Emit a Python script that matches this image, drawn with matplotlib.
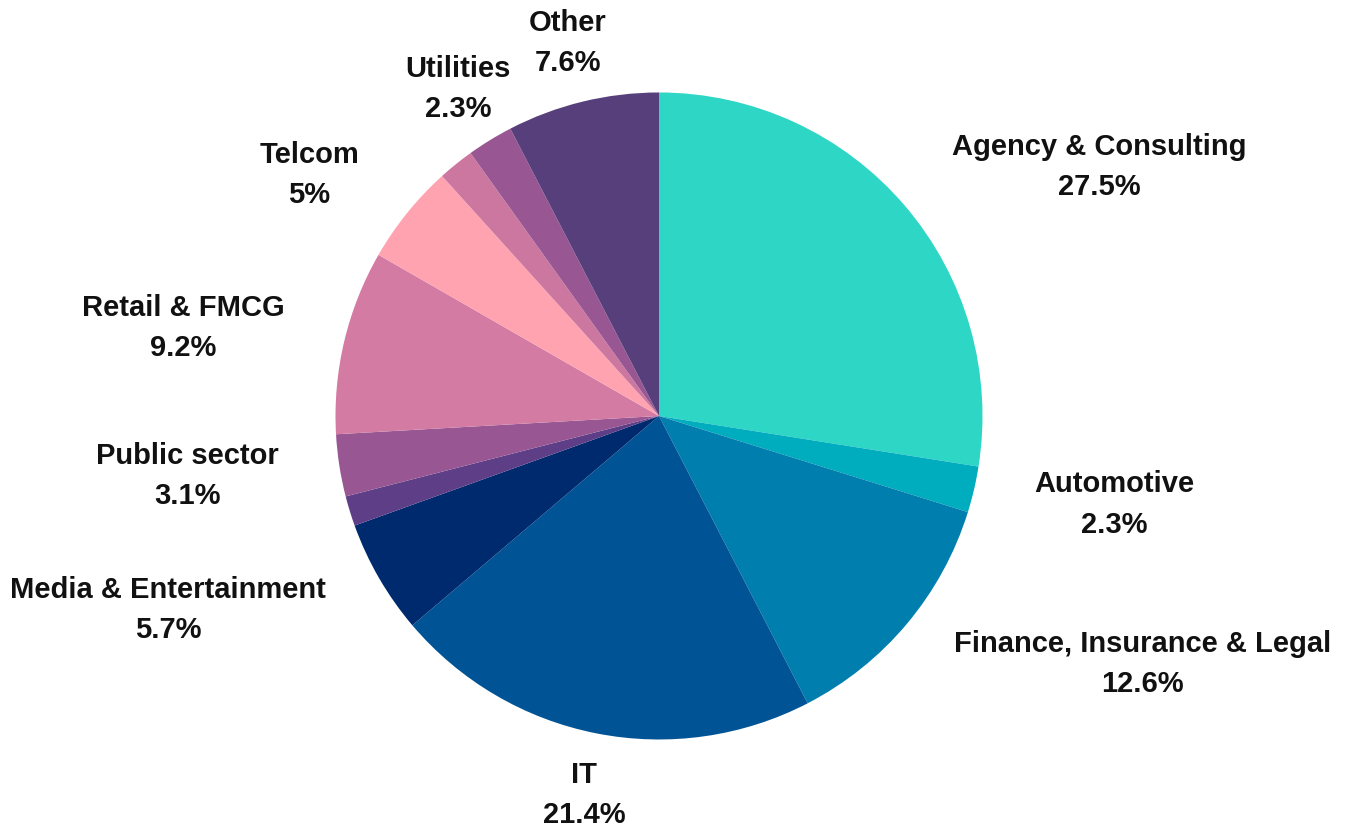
import numpy as np
import matplotlib.pyplot as plt

# Industry share (%), clockwise from 12 o'clock
sectors = ['Agency & Consulting', 'Automotive', 'Finance, Insurance & Legal', 'IT',
           'Media & Entertainment', '', 'Public sector', 'Retail & FMCG', 'Telcom', '',
           'Utilities', 'Other']
shares = [27.5, 2.3, 12.6, 21.4, 5.7, 1.5, 3.1, 9.2, 5, 1.8, 2.3, 7.6]
colors = ['#2ED6C5', '#00ADBF', '#007FAE', '#005495', '#002A6E', '#5D3E87',
          '#985793', '#D47BA3', '#FFA3B1', '#CB77A0', '#985793', '#573F7B']

plt.rcParams['font.family'] = ['Liberation Sans', 'DejaVu Sans']

fig = plt.figure(figsize=(13.5, 8.28), dpi=100)
ax = fig.add_axes([0.2485, 0.1057, 0.4793, 0.7814])

wedges, _ = ax.pie(shares, colors=colors, startangle=90, counterclock=False,
                   radius=1, wedgeprops=dict(linewidth=0))
ax.set_xlim(-1, 1)
ax.set_ylim(-1, 1)
ax.set_aspect('equal')
ax.axis('off')

# labels: anchor just outside the rim, aligned by side
for w, name, val in zip(wedges, sectors, shares):
    if not name:
        continue
    ang = np.deg2rad((w.theta1 + w.theta2) / 2)
    x, y = 1.19 * np.cos(ang), 1.19 * np.sin(ang)
    if abs(np.cos(ang)) < 0.6:
        ha = 'center'
    elif x > 0:
        ha = 'left'
    else:
        ha = 'right'
    ax.text(x, y, f'{name}\n{val:g}%', ha=ha, va='center', multialignment='center',
            fontsize=21, fontweight='bold', color='#111111', linespacing=1.55,
            clip_on=False)

fig.savefig('out.png', dpi=100)
